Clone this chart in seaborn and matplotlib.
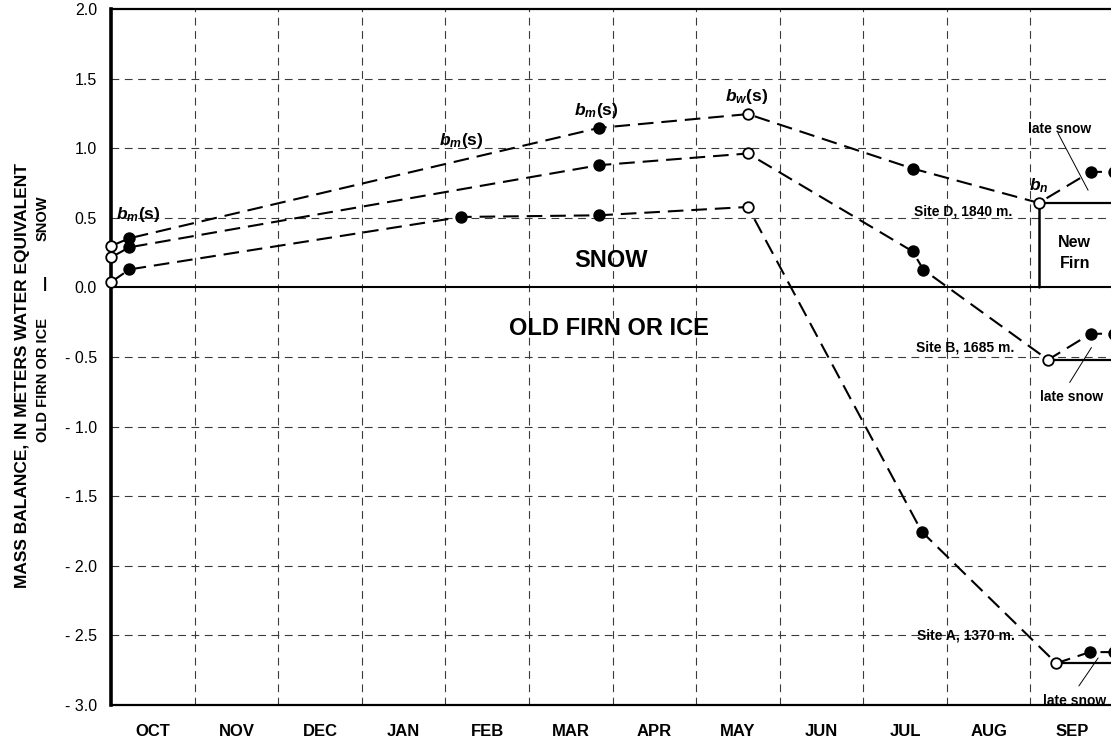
import numpy as np
import matplotlib
matplotlib.use("Agg")
import matplotlib.pyplot as plt
import seaborn as sns

# Month labels (water year, October through September)
months = ["OCT", "NOV", "DEC", "JAN", "FEB", "MAR", "APR", "MAY", "JUN", "JUL", "AUG", "SEP"]

# Y axis tick values and labels
y_ticks = [-3.0, -2.5, -2.0, -1.5, -1.0, -0.5, 0.0, 0.5, 1.0, 1.5, 2.0]
y_tick_labels = ["- 3.0", "- 2.5", "- 2.0", "- 1.5", "- 1.0", "- 0.5", "0.0", "0.5", "1.0", "1.5", "2.0"]

# Time in months since 1 October; balance in metres water equivalent
site_d_x = [0.00, 0.22, 5.84, 7.62, 9.59, 11.10, 11.72, 12.00]
site_d_y = [0.297, 0.353, 1.146, 1.245, 0.854, 0.607, 0.830, 0.830]
site_d_open = [True, False, False, True, False, True, False, False]

site_b_x = [0.00, 0.22, 5.84, 7.62, 9.59, 9.72, 11.21, 11.72, 12.00]
site_b_y = [0.216, 0.288, 0.878, 0.962, 0.259, 0.127, -0.520, -0.333, -0.333]
site_b_open = [True, False, False, True, False, False, True, False, False]

site_a_x = [0.00, 0.22, 4.19, 5.84, 7.62, 9.70, 11.31, 11.71, 12.00]
site_a_y = [0.038, 0.129, 0.506, 0.518, 0.578, -1.755, -2.700, -2.620, -2.620]
site_a_open = [True, False, False, False, True, False, True, False, False]

sites = [
    ("Site D, 1840 m.", site_d_x, site_d_y, site_d_open),
    ("Site B, 1685 m.", site_b_x, site_b_y, site_b_open),
    ("Site A, 1370 m.", site_a_x, site_a_y, site_a_open),
]

sns.set_style("white")
plt.rcParams["font.family"] = ["Liberation Sans", "DejaVu Sans"]
plt.rcParams["text.color"] = "black"
plt.rcParams["axes.labelcolor"] = "black"
plt.rcParams["xtick.color"] = "black"
plt.rcParams["ytick.color"] = "black"
plt.rcParams["mathtext.fontset"] = "custom"
plt.rcParams["mathtext.rm"] = "Liberation Sans"
plt.rcParams["mathtext.it"] = "Liberation Sans:italic"
plt.rcParams["mathtext.bf"] = "Liberation Sans:bold"
plt.rcParams["mathtext.bfit"] = "Liberation Sans:italic:bold"

W, H = 1111, 746
fig = plt.figure(figsize=(W / 100, H / 100), dpi=100)
fig.patch.set_facecolor("white")
ax = fig.add_axes([111 / W, 41 / H, 1003 / W, 696 / H])
ax.set_facecolor("white")

# Grid: month boundaries and every half metre
grid_kw = dict(color="#3a3a3a", lw=0.8, linestyle=(0, (7, 5)))
for m in range(1, 12):
    ax.axvline(m, zorder=1, **grid_kw)
for v in y_ticks:
    if v not in (0.0, 2.0, -3.0):
        ax.axhline(v, zorder=1, **grid_kw)

# Snow / old firn boundary
ax.axhline(0.0, color="black", lw=1.5, zorder=2)

dash = (0, (7.5, 3.8))
for name, xs, ys, opens in sites:
    sns.lineplot(x=xs, y=ys, sort=False, estimator=None, color="black",
                 lw=1.5, linestyle=dash, ax=ax, zorder=3)
    xs_a = np.array(xs)
    ys_a = np.array(ys)
    op = np.array(opens)
    sns.scatterplot(x=xs_a[~op], y=ys_a[~op], s=80, color="black",
                    edgecolor="black", linewidth=0, ax=ax, zorder=6,
                    clip_on=False, legend=False)
    sns.scatterplot(x=xs_a[op], y=ys_a[op], s=58, color="white",
                    edgecolor="black", linewidth=1.3, ax=ax, zorder=7,
                    clip_on=False, legend=False)

    # End-of-season surface (solid) from the net balance point
    bn_idx = int(np.where(op)[0][-1])
    ax.plot([xs[bn_idx], 12.5], [ys[bn_idx], ys[bn_idx]], color="black",
            lw=1.6, zorder=4, solid_capstyle="butt")

# New firn box at site D
d_bn = int(np.where(np.array(site_d_open))[0][-1])
ax.plot([site_d_x[d_bn], site_d_x[d_bn]], [0.0, site_d_y[d_bn]],
        color="black", lw=1.8, zorder=4)

ax.set_xlim(0, 12)
ax.set_ylim(-3.0, 2.0)

# Ticks
ax.set_xticks(range(0, 13))
ax.set_xticklabels([])
ax.set_xticks(np.arange(12) + 0.5, labels=months, minor=True)
ax.tick_params(axis="x", which="both", length=0, pad=14)
for lab in ax.get_xticklabels(minor=True):
    lab.set_fontsize(12)
    lab.set_fontweight("bold")

ax.set_yticks(y_ticks, labels=y_tick_labels)
ax.set_yticks(np.round(np.arange(-3.0, 2.01, 0.1), 2), minor=True)
ax.tick_params(axis="y", which="both", direction="in", length=4, width=1.0,
               color="black", pad=10, labelsize=11.5, labelcolor="black")

for side, lw in (("left", 2.6), ("bottom", 1.6), ("top", 1.6)):
    ax.spines[side].set_visible(True)
    ax.spines[side].set_linewidth(lw)
    ax.spines[side].set_color("black")
ax.spines["right"].set_visible(False)

# Area labels
ax.text(5.98, 0.19, "SNOW", ha="center", va="center", fontsize=17,
        fontweight="bold", zorder=8)
ax.text(5.96, -0.295, "OLD FIRN OR ICE", ha="center", va="center",
        fontsize=17, fontweight="bold", zorder=8)
ax.text(11.53, 0.324, "New", ha="center", va="center", fontsize=11.5,
        fontweight="bold", zorder=8)
ax.text(11.53, 0.173, "Firn", ha="center", va="center", fontsize=11.5,
        fontweight="bold", zorder=8)

# Balance terms
bm = r"$\mathbfit{b}_{\mathbfit{m}}\mathbf{(s)}$"
bw = r"$\mathbfit{b}_{\mathbfit{w}}\mathbf{(s)}$"
bn = r"$\mathbfit{b}_{\mathbfit{n}}$"
for tx, ty, s in ((0.32, 0.525, bm), (4.19, 1.058, bm), (5.81, 1.273, bm),
                  (7.60, 1.374, bw), (11.10, 0.734, bn)):
    ax.text(tx, ty, s, ha="center", va="center", fontsize=12.5, zorder=8)

# Site names
ax.text(10.78, 0.547, "Site D, 1840 m.", ha="right", va="center",
        fontsize=10, fontweight="bold", zorder=8)
ax.text(10.81, -0.432, "Site B, 1685 m.", ha="right", va="center",
        fontsize=10, fontweight="bold", zorder=8)
ax.text(10.81, -2.504, "Site A, 1370 m.", ha="right", va="center",
        fontsize=10, fontweight="bold", zorder=8)

# Late-snow notes with leader lines
for (tx, ty), (x0, y0), (x1, y1) in (
        ((11.35, 1.137), (11.33, 1.108), (11.69, 0.698)),
        ((11.49, -0.79), (11.47, -0.683), (11.73, -0.432)),
        ((11.53, -2.97), (11.58, -2.863), (11.81, -2.662))):
    ax.text(tx, ty, "late snow", ha="center", va="center", fontsize=10,
            fontweight="bold", zorder=8)
    ax.plot([x0, x1], [y0, y1], color="black", lw=0.7, zorder=8)

# Axis title in two columns
fig.text(23 / W, 1 - 375 / H, "MASS BALANCE, IN METERS WATER EQUIVALENT",
         rotation=90, ha="center", va="center", fontsize=12.5, fontweight="bold")
fig.text(43 / W, 1 - 218 / H, "SNOW", rotation=90, ha="center", va="center",
         fontsize=10.5, fontweight="bold")
fig.text(45 / W, 1 - 284 / H, "|", rotation=0, ha="center", va="center",
         fontsize=11, fontweight="bold")
fig.text(43 / W, 1 - 380 / H, "OLD FIRN OR ICE", rotation=90, ha="center",
         va="center", fontsize=10.5, fontweight="bold")

fig.savefig("out.png", dpi=100, facecolor="white")
